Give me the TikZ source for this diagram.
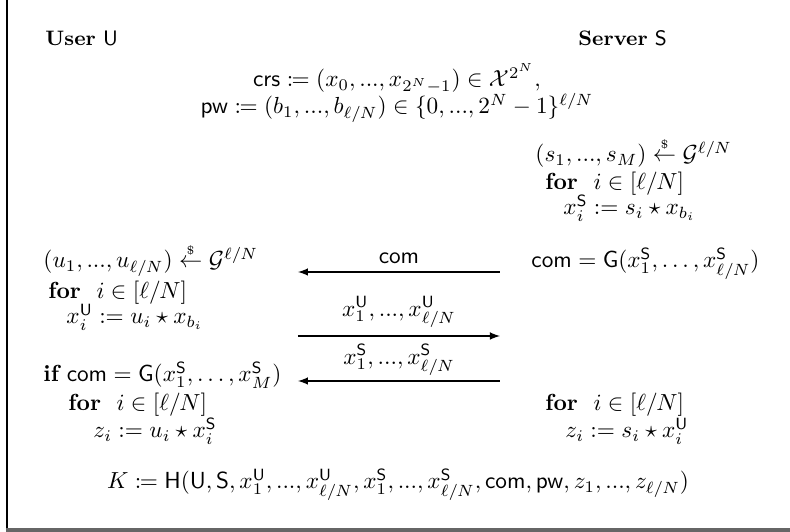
\documentclass[tikz,border=0pt]{standalone}
\usepackage{amsmath}
\usepackage{amssymb}
\usepackage{mathtools}
\usepackage{tikz}

\newcommand{\getsr}{\stackrel{\scriptscriptstyle\$}{\leftarrow}}
\newcommand{\pU}{\mathsf{U}}
\newcommand{\pS}{\mathsf{S}}

\begin{document}
\begin{tikzpicture}[x=0.43pt, y=-0.43pt,
    txt/.style={anchor=base west, inner sep=0pt},
    ctr/.style={anchor=base, inner sep=0pt},
    party/.style={txt, font=\small},
    msg/.style={-latex, line width=0.5pt}]
    \useasboundingbox (0,0) rectangle (790,532);
    % frame
    \draw[line width=0.8pt] (7,0) -- (7,530);
    \draw[line width=1.5pt, gray!80!black] (6,530) -- (790,530);
    % parties and public values
    \node[party] (user) at (45,46) {\textbf{User} $\pU$};
    \node[party] (server) at (578,46) {\textbf{Server} $\pS$};
    \node[ctr] (crs) at (397,87)
        {$\mathsf{crs} \coloneqq (x_0, ..., x_{2^N-1}) \in \mathcal{X}^{2^N},$};
    \node[ctr] (pw) at (397,114)
        {$\mathsf{pw} \coloneqq (b_1, ..., b_{\ell/N}) \in \{0, ..., 2^N-1\}^{\ell/N}$};
    % server, first part
    \node[txt] (srand) at (535,162) {$(s_1, ..., s_M) \getsr \mathcal{G}^{\ell/N}$};
    \node[txt] (sfor) at (545,190) {$\textbf{for}\ \ i \in [\ell/N]$};
    \node[txt] (sx) at (563,215) {$x_i^{\pS} := s_i \star x_{b_i}$};
    \node[txt] (scom) at (531,268)
        {$\mathsf{com} = \mathsf{G}(x_1^{\pS}, \ldots, x_{\ell/N}^{\pS})$};
    % user
    \node[txt] (urand) at (43,268) {$(u_1, ..., u_{\ell/N}) \getsr \mathcal{G}^{\ell/N}$};
    \node[txt] (ufor) at (48,299) {$\textbf{for}\ \ i \in [\ell/N]$};
    \node[txt] (ux) at (66,324) {$x_i^{\pU} := u_i \star x_{b_i}$};
    \node[txt] (uif) at (43,382)
        {$\textbf{if}\ \mathsf{com} = \mathsf{G}(x_1^{\pS}, \ldots, x_M^{\pS})$};
    \node[txt] (ufor2) at (68,411) {$\textbf{for}\ \ i \in [\ell/N]$};
    \node[txt] (uz) at (93,438) {$z_i := u_i \star x_i^{\pS}$};
    % server, second part
    \node[txt] (sfor2) at (545,411) {$\textbf{for}\ \ i \in [\ell/N]$};
    \node[txt] (sz) at (565,438) {$z_i := s_i \star x_i^{\pU}$};
    % messages
    \coordinate (m1r) at (500,272);
    \coordinate (m1l) at (298,272);
    \coordinate (m2l) at (298,336);
    \coordinate (m2r) at (500,336);
    \coordinate (m3r) at (500,381);
    \coordinate (m3l) at (298,381);
    \draw[msg] (m1r) -- (m1l) node[midway, above] (lcom) {$\mathsf{com}$};
    \draw[msg] (m2l) -- (m2r) node[midway, above] (lxu) {$x_1^{\pU}, ..., x_{\ell/N}^{\pU}$};
    \draw[msg] (m3r) -- (m3l) node[midway, above, inner sep=2pt] (lxs) {$x_1^{\pS}, ..., x_{\ell/N}^{\pS}$};
    % session key
    \node[ctr] (key) at (398,489)
        {$K \coloneqq \mathsf{H}(\pU, \pS, x_1^{\pU}, ..., x_{\ell/N}^{\pU}, x_1^{\pS}, ..., x_{\ell/N}^{\pS}, \mathsf{com}, \mathsf{pw}, z_1, ..., z_{\ell/N})$};
\end{tikzpicture}
\end{document}
